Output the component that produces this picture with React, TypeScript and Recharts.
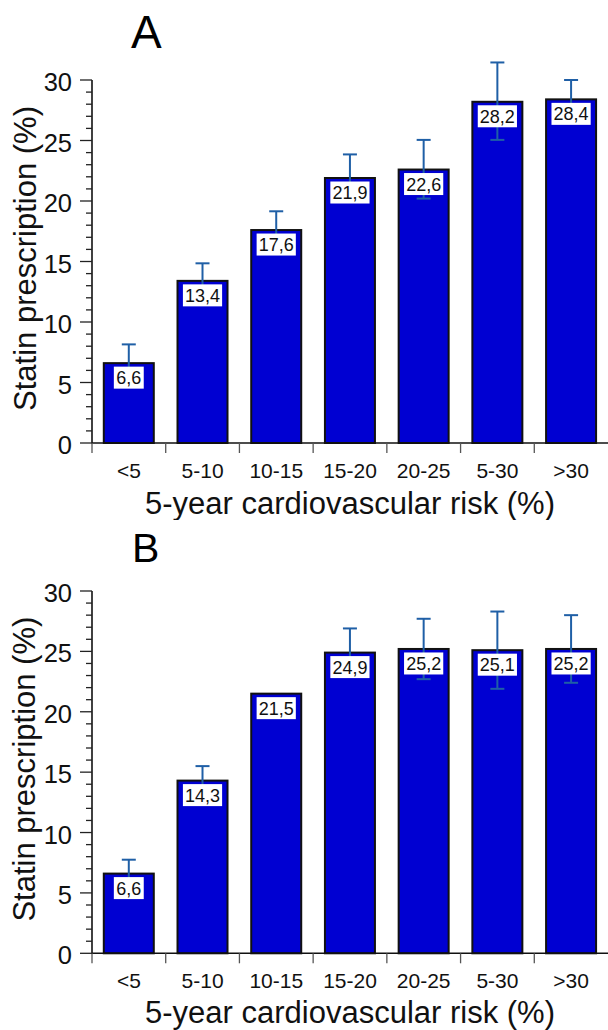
import React from 'react';
import { BarChart, Bar, XAxis, YAxis, LabelList } from 'recharts';

const categories = ['<5', '5-10', '10-15', '15-20', '20-25', '5-30', '>30'];

// panel A
const valuesA = [6.6, 13.4, 17.6, 21.9, 22.6, 28.2, 28.4];
const errorsA = [[1.5, 1.55], [1.45, 1.45], [1.55, 1.55], [1.9, 1.95], [2.4, 2.45], [3.15, 3.25], [1.6, 1.6]];

// panel B
const valuesB = [6.6, 14.3, 21.5, 24.9, 25.2, 25.1, 25.2];
const errorsB = [[1.1, 1.15], [1.2, 1.2], null, [2.0, 2.0], [2.5, 2.5], [3.2, 3.2], [2.8, 2.8]];

const yTicks = [0, 1, 2, 3, 4, 5, 6, 7, 8, 9, 10, 11, 12, 13, 14, 15, 16, 17, 18, 19, 20, 21, 22, 23, 24, 25, 26, 27, 28, 29, 30];

const FONT = '"Liberation Sans", Arial, Helvetica, sans-serif';
const WIDTH = 608;
const AXIS_LEFT = 92;
const BAND = (WIDTH - AXIS_LEFT) / categories.length;
const ERR_COLOR = '#1f5fa6';

const toRows = (values: number[], errors: (number[] | null)[]) =>
  categories.map((c, i) => ({ cat: c, value: values[i], err: errors[i] }));

const YTick = (props: any) => {
  const { x, y, payload } = props;
  const v = payload.value;
  const major = v % 5 === 0;
  const ax = x + 20;
  return (
    <g>
      <line x1={ax - (major ? 12 : 6)} x2={ax} y1={y} y2={y} stroke="#222" strokeWidth={1.3} />
      {major && (
        <text x={ax - 20} y={y} dy={11} textAnchor="end" fontSize={25.5} fontFamily={FONT} fill="#111">
          {v}
        </text>
      )}
    </g>
  );
};

const XTick = (props: any) => {
  const { x, y, payload } = props;
  const ay = y - 10;
  const left = x - BAND / 2;
  return (
    <g>
      <line x1={left} x2={left} y1={ay} y2={ay + 10} stroke="#555" strokeWidth={1.3} />
      <text x={x} y={ay + 35} textAnchor="middle" fontSize={21} fontFamily={FONT} fill="#111">
        {payload.value}
      </text>
    </g>
  );
};

// bar with its error whiskers; the scale comes from the bar's own pixel height
const BarWithError = (props: any) => {
  const { x, y, width, height, payload } = props;
  const err = payload.err;
  const cx = x + width / 2;
  let whisker = null;
  if (err && payload.value > 0) {
    const unit = height / payload.value;
    const yHigh = y - err[1] * unit;
    const yLow = y + err[0] * unit;
    whisker = (
      <g stroke={ERR_COLOR} strokeWidth={2}>
        <line x1={cx} x2={cx} y1={yHigh} y2={yLow} />
        <line x1={cx - 7} x2={cx + 7} y1={yHigh} y2={yHigh} />
        <line x1={cx - 7} x2={cx + 7} y1={yLow} y2={yLow} />
      </g>
    );
  }
  return (
    <g>
      <rect x={x} y={y} width={width} height={height} fill="#0000d2" stroke="#111" strokeWidth={2} />
      {whisker}
    </g>
  );
};

const ValueLabel = (props: any) => {
  const { x, y, width, value } = props;
  const txt = Number(value).toFixed(1).replace('.', ',');
  const w = txt.length * 9.3 + 2;
  const cx = x + width / 2;
  return (
    <g>
      <rect x={cx - w / 2} y={y + 3.5} width={w} height={22} fill="#fff" />
      <text x={cx} y={y + 21} textAnchor="middle" fontSize={18} fontFamily={FONT} fill="#111">
        {txt}
      </text>
    </g>
  );
};

interface PanelProps {
  values: number[];
  errors: (number[] | null)[];
  height: number;
  top: number;
  axisHeight: number;
  titleY: number;
}

const Panel: React.FC<PanelProps> = ({ values, errors, height, top, axisHeight, titleY }) => {
  const data = toRows(values, errors);
  return (
    <BarChart
      width={WIDTH}
      height={height}
      data={data}
      margin={{ top, right: 0, bottom: 0, left: 0 }}
      barCategoryGap="16%"
      style={{ overflow: 'visible' }}
    >
      <XAxis
        dataKey="cat"
        interval={0}
        tickSize={10}
        tickMargin={0}
        tickLine={false}
        tick={<XTick />}
        height={axisHeight}
        stroke="#111"
        strokeWidth={1.6}
        label={(p: any) => {
          const vb = p.viewBox || {};
          return (
            <text
              x={(vb.x ?? AXIS_LEFT) + (vb.width ?? WIDTH - AXIS_LEFT) / 2}
              y={(vb.y ?? 0) + titleY}
              textAnchor="middle"
              fontSize={31}
              fontFamily={FONT}
              fill="#111"
            >
              5-year cardiovascular risk (%)
            </text>
          );
        }}
      />
      <YAxis
        domain={[0, 30]}
        ticks={yTicks}
        interval={0}
        tickSize={12}
        tickMargin={8}
        tickLine={false}
        tick={<YTick />}
        width={AXIS_LEFT}
        stroke="#111"
        strokeWidth={1.6}
        label={(p: any) => {
          const vb = p.viewBox || {};
          const cy = (vb.y ?? top) + (vb.height ?? 360) / 2 - 3;
          return (
            <text
              x={35.5}
              y={cy}
              transform={`rotate(-90 35.5 ${cy})`}
              textAnchor="middle"
              fontSize={31}
              fontFamily={FONT}
              fill="#111"
            >
              Statin prescription (%)
            </text>
          );
        }}
      />
      <Bar dataKey="value" shape={<BarWithError />} isAnimationActive={false}>
        <LabelList dataKey="value" content={<ValueLabel />} />
      </Bar>
    </BarChart>
  );
};

export default function App() {
  return (
    <div style={{ position: 'relative', width: WIDTH, height: 1030, background: '#fff', overflow: 'hidden' }}>
      <style>{'body{margin:0;}'}</style>
      <div style={{ position: 'absolute', left: 0, top: 0 }}>
        <Panel values={valuesA} errors={errorsA} height={520} top={80} axisHeight={77} titleY={71} />
      </div>
      <div style={{ position: 'absolute', left: 0, top: 520 }}>
        <Panel values={valuesB} errors={errorsB} height={510} top={71} axisHeight={76.7} titleY={70} />
      </div>
      <svg width={WIDTH} height={1030} style={{ position: 'absolute', left: 0, top: 0, pointerEvents: 'none' }}>
        <text x={131} y={47.7} fontSize={46} fontFamily={FONT} fill="#000">A</text>
        <text x={132} y={562.3} fontSize={41} fontFamily={FONT} fill="#000">B</text>
      </svg>
    </div>
  );
}
